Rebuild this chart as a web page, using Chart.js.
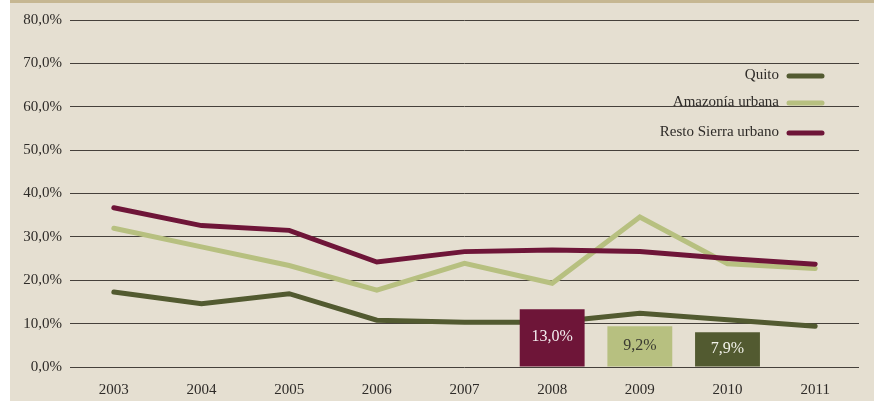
<!DOCTYPE html>
<html>
<head>
<meta charset="utf-8">
<script src="https://cdn.jsdelivr.net/npm/chart.js@4.4.1/dist/chart.umd.min.js"></script>
<style>
	html, body { margin: 0; padding: 0; background: #ffffff; }
	#wrap { width: 874px; height: 401px; }
</style>
</head>
<body>
<div id="wrap"><canvas id="chart" width="874" height="401"></canvas></div>
<script>
// data
const years = ['2003', '2004', '2005', '2006', '2007', '2008', '2009', '2010', '2011'];
const quito = [17.3, 14.6, 16.9, 10.8, 10.3, 10.3, 12.4, 10.9, 9.4];
const amazonia = [32.0, 27.7, 23.4, 17.7, 23.9, 19.3, 34.6, 23.8, 22.7];
const restoSierra = [36.7, 32.6, 31.5, 24.2, 26.6, 27.0, 26.6, 25.0, 23.7];
const boxValues = [null, null, null, null, null, 13.3, 9.4, 8.0, null];
const boxLabels = [null, null, null, null, null, '13,0%', '9,2%', '7,9%', null];
const yTicks = [0, 10, 20, 30, 40, 50, 60, 70, 80];

const seriesNames = ['Quito', 'Amazonía urbana', 'Resto Sierra urbano'];
const seriesColors = ['#525a30', '#b7c080', '#6e1538'];
const boxColors = [null, null, null, null, null, '#6e1538', '#b7c080', '#525a30', null];
const boxTextColors = [null, null, null, null, null, '#f4eef0', '#3a3a30', '#f2f2ea', null];

const SERIF = '"Liberation Serif", "DejaVu Serif", serif';

// y positions of the legend rows
const legendRows = [75, 102, 132];

const backgroundPlugin = {
	id: 'background',
	beforeDraw(chart) {
		const {ctx, width, height} = chart;
		ctx.save();
		ctx.fillStyle = '#ffffff';
		ctx.fillRect(0, 0, width, height);
		ctx.fillStyle = '#e5dfd1';
		ctx.fillRect(10, 0, width - 10, height);
		ctx.fillStyle = '#c6b792';
		ctx.fillRect(10, 0, width - 10, 3);

		// legend text goes under the grid lines, like in the original
		ctx.font = '15px ' + SERIF;
		ctx.fillStyle = '#2e2b28';
		ctx.textAlign = 'right';
		ctx.textBaseline = 'middle';
		legendRows.forEach((y, i) => ctx.fillText(seriesNames[i], 779, y));
		ctx.restore();
	}
};

const legendLinesPlugin = {
	id: 'legendLines',
	afterDatasetsDraw(chart) {
		const {ctx} = chart;
		ctx.save();
		ctx.lineWidth = 5;
		ctx.lineCap = 'round';
		legendRows.forEach((y, i) => {
			ctx.strokeStyle = seriesColors[i];
			ctx.beginPath();
			ctx.moveTo(789, y + 1);
			ctx.lineTo(822, y + 1);
			ctx.stroke();
		});
		ctx.restore();
	}
};

const boxLabelsPlugin = {
	id: 'boxLabels',
	afterDatasetsDraw(chart) {
		const {ctx} = chart;
		const meta = chart.getDatasetMeta(3);
		ctx.save();
		ctx.font = '16px ' + SERIF;
		ctx.textAlign = 'center';
		ctx.textBaseline = 'middle';
		meta.data.forEach((bar, index) => {
			if (!boxLabels[index]) return;
			const {x, y, base} = bar.getProps(['x', 'y', 'base'], true);
			ctx.fillStyle = boxTextColors[index];
			ctx.fillText(boxLabels[index], x, y + (base - y) / 2 - 1);
		});
		ctx.restore();
	}
};

const lineDataset = (label, data, color) => ({
	type: 'line',
	label: label,
	data: data,
	borderColor: color,
	backgroundColor: color,
	borderWidth: 5,
	borderCapStyle: 'round',
	borderJoinStyle: 'miter',
	pointRadius: 0,
	tension: 0,
	order: 1
});

new Chart(document.getElementById('chart'), {
	data: {
		labels: years,
		datasets: [
			lineDataset(seriesNames[2], restoSierra, seriesColors[2]),
			lineDataset(seriesNames[1], amazonia, seriesColors[1]),
			lineDataset(seriesNames[0], quito, seriesColors[0]),
			{
				type: 'bar',
				label: 'boxes',
				data: boxValues,
				backgroundColor: boxColors,
				borderWidth: 0,
				categoryPercentage: 1,
				barPercentage: 0.74,
				order: 0
			}
		]
	},
	options: {
		responsive: false,
		animation: false,
		layout: {
			padding: { top: 20, right: 15, bottom: 0, left: 0 }
		},
		plugins: {
			legend: { display: false },
			tooltip: { enabled: false }
		},
		scales: {
			x: {
				offset: true,
				grid: { display: false },
				border: { display: false },
				ticks: {
					color: '#2e2b28',
					padding: 6,
					maxRotation: 0,
					font: { family: SERIF, size: 15 }
				},
				afterFit(scale) { scale.height = 34; }
			},
			y: {
				min: 0,
				max: 80,
				afterBuildTicks(scale) { scale.ticks = yTicks.map(v => ({value: v})); },
				grid: { color: '#45403b', lineWidth: 1, drawTicks: false },
				border: { display: false },
				ticks: {
					color: '#2e2b28',
					padding: 8,
					font: { family: SERIF, size: 15 },
					callback: (v) => v.toFixed(1).replace('.', ',') + '%'
				},
				afterFit(scale) { scale.width = 70; }
			}
		}
	},
	plugins: [backgroundPlugin, legendLinesPlugin, boxLabelsPlugin]
});
</script>
</body>
</html>
